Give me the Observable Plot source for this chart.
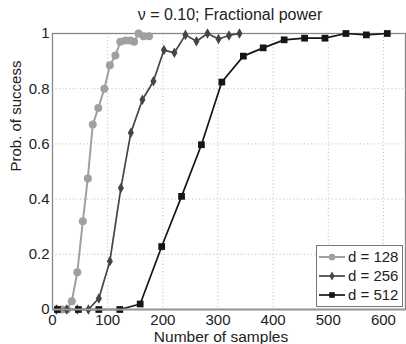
<!DOCTYPE html>
<html>
<head>
<meta charset="utf-8">
<script src="https://cdn.jsdelivr.net/npm/d3@7"></script>
<script src="https://cdn.jsdelivr.net/npm/@observablehq/plot@0.6"></script>
<style>
  body { margin: 0; background: #fff; font-family: "Liberation Sans", Arial, sans-serif; }
  #wrap { position: relative; width: 406px; height: 344px; overflow: hidden; }
  #title { position: absolute; left: 100px; width: 260px; top: 5px; text-align: center; font-size: 16px; line-height: 19px; color: #222; white-space: nowrap; }
  #legend { position: absolute; left: 316px; top: 245px; }
</style>
</head>
<body>
<div id="wrap">
  <div id="chart"></div>
  <div id="title">ν = 0.10; Fractional power</div>
  <svg id="legend" width="88" height="62"></svg>
</div>
<script>
const title = "ν = 0.10; Fractional power";
const xLabel = "Number of samples";
const yLabel = "Prob. of success";
const seriesNames = ["d = 128", "d = 256", "d = 512"];
const xTicks = [0, 100, 200, 300, 400, 500, 600];
const yTicks = [0, 0.2, 0.4, 0.6, 0.8, 1];

const x128 = [9, 17, 26, 35, 45, 55, 64, 73, 83, 94, 104, 114, 123, 132, 141, 148, 156, 165, 175];
const p128 = [0, 0, 0, 0.03, 0.135, 0.32, 0.475, 0.67, 0.73, 0.80, 0.885, 0.92, 0.97, 0.975, 0.975, 0.97, 1.0, 0.99, 0.99];

const x256 = [7, 26, 45, 65, 84, 104, 124, 142, 163, 183, 202, 221, 241, 261, 281, 301, 320, 339];
const p256 = [0, 0, 0, 0, 0.04, 0.175, 0.44, 0.64, 0.76, 0.827, 0.94, 0.93, 0.995, 0.972, 1.0, 0.98, 0.993, 1.0];

const x512 = [9, 47, 84, 122, 159, 198, 234, 270, 307, 346, 382, 420, 457, 494, 532, 569, 607];
const p512 = [0, 0, 0, 0, 0.02, 0.228, 0.41, 0.597, 0.824, 0.918, 0.948, 0.977, 0.983, 0.983, 1.0, 0.995, 1.0];

const colors = ["#a0a0a0", "#454545", "#151515"];
const symbols = ["circle", "diamond", "square"];
const radii = [4, 3.2, 3.8];
const widths = [2, 1.7, 1.7];

const toRows = (xs, ps) => xs.map((x, i) => ({x, p: ps[i]}));
const series = [toRows(x128, p128), toRows(x256, p256), toRows(x512, p512)];

const marks = [
  Plot.gridX(xTicks.filter(d => d > 0), {stroke: "#bbb", strokeOpacity: 1, strokeDasharray: "1,2.5", strokeWidth: 1}),
  Plot.gridY(yTicks.filter(d => d > 0 && d < 1), {stroke: "#bbb", strokeOpacity: 1, strokeDasharray: "1,2.5", strokeWidth: 1}),
  Plot.frame({stroke: "#888", strokeWidth: 1.3}),
  Plot.axisX({ticks: xTicks, tickSize: 0, tickPadding: 5, fontSize: 15, label: null, tickFormat: d3.format("d")}),
  Plot.axisY({ticks: yTicks, tickSize: 0, tickPadding: 3, fontSize: 15, label: null, tickFormat: d3.format("~g")}),
  Plot.text([xLabel], {frameAnchor: "bottom", dx: -8, dy: 28, fontSize: 15.5, lineAnchor: "middle", fill: "#222"}),
  Plot.text([yLabel], {frameAnchor: "left", dx: -36, rotate: -90, fontSize: 15, lineAnchor: "middle", fill: "#222"})
];
series.forEach((rows, i) => {
  marks.push(Plot.line(rows, {x: "x", y: "p", stroke: colors[i], strokeWidth: widths[i]}));
  marks.push(Plot.dot(rows, {x: "x", y: "p", symbol: () => symbols[i], fill: colors[i], stroke: "none", r: radii[i]}));
});
marks.push(Plot.ruleY([0], {stroke: "#999", strokeWidth: 2}));

const chart = Plot.plot({
  width: 406,
  height: 344,
  marginLeft: 52,
  marginRight: 1,
  marginTop: 33,
  marginBottom: 35,
  style: {fontFamily: "Liberation Sans, Arial, sans-serif", color: "#222", background: "#fff"},
  x: {domain: [0, 640]},
  y: {domain: [0, 1]},
  symbol: {type: "identity"},
  marks
});
document.getElementById("chart").appendChild(chart);

// legend box inside the axes
const lg = d3.select("#legend");
lg.append("rect").attr("x", 0.5).attr("y", 0.5).attr("width", 86).attr("height", 61)
  .attr("fill", "#fff").attr("stroke", "#777").attr("stroke-width", 1);
seriesNames.forEach((name, i) => {
  const cy = 12 + i * 19;
  lg.append("line").attr("x1", 3).attr("x2", 29).attr("y1", cy).attr("y2", cy)
    .attr("stroke", colors[i]).attr("stroke-width", widths[i]);
  const sym = {circle: d3.symbolCircle, diamond: d3.symbolDiamond, square: d3.symbolSquare}[symbols[i]];
  lg.append("path").attr("transform", `translate(16,${cy})`)
    .attr("d", d3.symbol(sym, Math.PI * radii[i] * radii[i] * 0.7)())
    .attr("fill", colors[i]);
  lg.append("text").attr("x", 32).attr("y", cy).attr("dy", "0.35em")
    .attr("font-size", 15).attr("fill", "#222")
    .attr("font-family", "Liberation Sans, Arial, sans-serif").text(name);
});
</script>
</body>
</html>
